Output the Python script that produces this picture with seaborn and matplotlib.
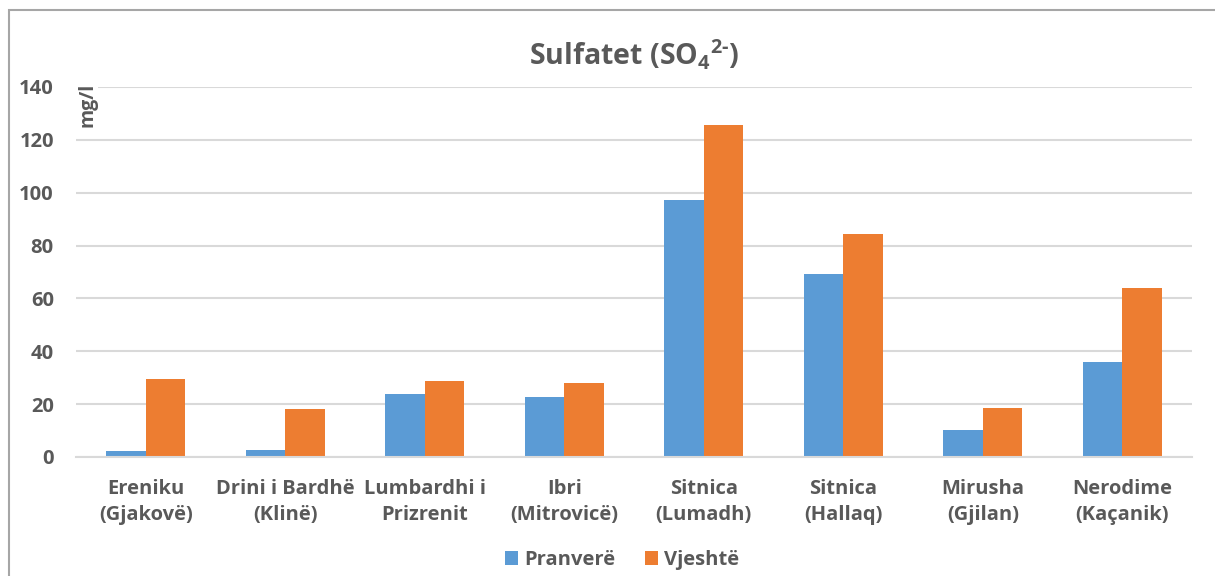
import pandas as pd
import seaborn as sns
import matplotlib.pyplot as plt
from matplotlib.patches import Rectangle

stations = ['Ereniku\n(Gjakovë)', 'Drini i Bardhë\n(Klinë)', 'Lumbardhi i\nPrizrenit',
            'Ibri\n(Mitrovicë)', 'Sitnica\n(Lumadh)', 'Sitnica\n(Hallaq)',
            'Mirusha\n(Gjilan)', 'Nerodime\n(Kaçanik)']
pranvere = [2.3, 2.8, 23.7, 22.8, 97.3, 69.2, 10.3, 35.8]
vjeshte = [29.7, 18.3, 28.7, 27.9, 125.8, 84.4, 18.5, 63.8]
seasons = ['Pranverë', 'Vjeshtë']
y_ticks = [0, 20, 40, 60, 80, 100, 120, 140]

df = pd.DataFrame({
    'station': stations * 2,
    'season': [seasons[0]] * len(stations) + [seasons[1]] * len(stations),
    'value': pranvere + vjeshte,
})

sns.set_theme(style='white')
plt.rcParams['font.family'] = ['Open Sans', 'DejaVu Sans']
plt.rcParams['font.weight'] = 'bold'
plt.rcParams['mathtext.fontset'] = 'custom'
plt.rcParams['mathtext.rm'] = 'Open Sans:bold'
plt.rcParams['mathtext.it'] = 'Open Sans:bold'
plt.rcParams['mathtext.bf'] = 'Open Sans:bold'
plt.rcParams['mathtext.default'] = 'regular'

text_color = '#595959'
grid_color = '#D9D9D9'

fig = plt.figure(figsize=(12.15, 5.76), dpi=100)
ax = fig.add_axes([76 / 1215, 1 - 457 / 576, (1192 - 76) / 1215, (457 - 87) / 576])

sns.barplot(data=df, x='station', y='value', hue='season',
            palette=['#5B9BD5', '#ED7D31'], width=0.567, gap=0,
            saturation=1, edgecolor='none', ax=ax)

ax.set_ylim(0, 140)
ax.set_yticks(y_ticks)
ax.yaxis.grid(True, color=grid_color, linewidth=1.5)
ax.set_axisbelow(True)
for side in ['top', 'right', 'left']:
    ax.spines[side].set_visible(False)
ax.spines['bottom'].set_color(grid_color)
ax.spines['bottom'].set_linewidth(1.5)
ax.tick_params(axis='both', length=0, labelsize=14.5, labelcolor=text_color)
ax.tick_params(axis='x', pad=16)
ax.tick_params(axis='y', pad=16)
for lbl in ax.get_xticklabels():
    lbl.set_linespacing(1.4)
    lbl.set_fontweight('bold')
for lbl in ax.get_yticklabels():
    lbl.set_fontweight('bold')
ax.set_xlabel('')
ax.set_ylabel('')

ax.text(0.001, 1.012, 'mg/l', transform=ax.transAxes, rotation=90, ha='left', va='top',
        fontsize=14, fontweight='bold', color=text_color,
        bbox=dict(facecolor='white', edgecolor='none', pad=1))

fig.text(634 / 1215, 0.905, r'Sulfatet (SO$_4$$^{2\text{-}}$)', ha='center', va='center',
         fontsize=20.5, fontweight='bold', color=text_color)

leg = ax.legend(loc='center', bbox_to_anchor=(622 / 1215, 1 - 560 / 576),
                bbox_transform=fig.transFigure, ncol=2, frameon=False,
                handlelength=0.65, handleheight=0.65, handletextpad=0.3,
                columnspacing=1.5, fontsize=14.5)
for t in leg.get_texts():
    t.set_color(text_color)
    t.set_fontweight('bold')

fig.patches.append(Rectangle((9 / 1215, -0.1), 1.2, 1 - 9.5 / 576 + 0.1,
                             transform=fig.transFigure, facecolor='none',
                             edgecolor='#A6A6A6', linewidth=1.5))

fig.savefig('out.png', dpi=100)
